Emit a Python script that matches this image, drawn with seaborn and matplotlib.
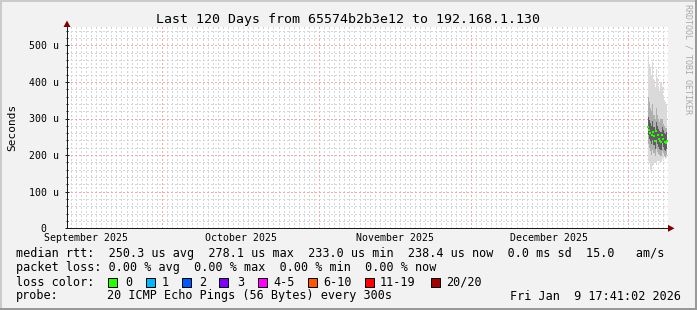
import matplotlib
matplotlib.use("Agg")
import matplotlib.pyplot as plt
from matplotlib.patches import Polygon, Rectangle
from matplotlib.ticker import MultipleLocator, FixedLocator
import seaborn as sns
import pandas as pd

# ---------------- data ----------------
title = "Last 120 Days from 65574b2b3e12 to 192.168.1.130"
y_label = "Seconds"
# time axis in days since 2025-09-01
month_starts = [30, 61, 91, 122]
month_mids = [15, 45.5, 76, 106.5]
month_labels = ["September 2025", "October 2025", "November 2025", "December 2025"]
x_range = [11.24, 129.9]
y_ticks = [0, 100, 200, 300, 400, 500]
y_tick_labels = ["0  ", "100 u", "200 u", "300 u", "400 u", "500 u"]
y_range = [0, 550]

times = [125.95, 126.18, 126.42, 126.65, 126.89, 127.12, 127.36, 127.59, 127.83,
         128.06, 128.29, 128.53, 128.76, 129.00, 129.23, 129.47, 129.70]
rtt_median = [278, 268, 261, 254, 264, 252, 239, 266, 254, 243, 239, 236, 254, 243, 236, 233, 238]
rtt_max = [470, 450, 440, 420, 455, 405, 385, 435, 410, 390, 375, 400, 385, 365, 350, 345, 340]
rtt_p90 = [360, 345, 330, 320, 340, 310, 300, 330, 310, 300, 290, 300, 300, 285, 280, 275, 275]
rtt_p75 = [305, 295, 288, 280, 292, 278, 268, 290, 280, 270, 265, 262, 278, 268, 260, 258, 262]
rtt_p25 = [255, 245, 238, 230, 240, 228, 218, 242, 230, 222, 218, 215, 232, 222, 215, 212, 217]
rtt_p10 = [230, 220, 210, 200, 215, 205, 198, 218, 208, 202, 200, 198, 210, 205, 198, 195, 200]
rtt_min = [190, 178, 160, 150, 170, 178, 182, 172, 185, 188, 185, 180, 190, 192, 195, 190, 192]

median_stats = ["250.3", "278.1", "233.0", "238.4"]
sd_value = "0.0"
am_value = "15.0"
loss_stats = ["0.00", "0.00", "0.00", "0.00"]
loss_labels = ["0", "1", "2", "3", "4-5", "6-10", "11-19", "20/20"]
loss_colors = ["#26ff00", "#00b8ff", "#0059ff", "#7e00ff", "#ff00ff", "#ff5500", "#ff0000", "#a00000"]
probe_text = "20 ICMP Echo Pings (56 Bytes) every 300s"
timestamp = "Fri Jan  9 17:41:02 2026"
watermark = "RRDTOOL / TOBI OETIKER"

# ---------------- figure ----------------
W, H = 697, 310
MONO = "DejaVu Sans Mono"
plt.rcParams["font.family"] = [MONO]
fig = plt.figure(figsize=(W / 100, H / 100), dpi=100, facecolor="#F2F2F2")


def fx(px):
    return px / W


def fy(py):
    return 1 - py / H


left, right, top, bottom = 67, 668, 27, 228.3
ax = fig.add_axes([fx(left), fy(bottom), (right - left) / W, (bottom - top) / H])
ax.set_facecolor("white")
ax.set_xlim(*x_range)
ax.set_ylim(*y_range)

# grid
ax.xaxis.set_major_locator(FixedLocator(month_starts))
ax.xaxis.set_minor_locator(MultipleLocator(1))
ax.yaxis.set_major_locator(FixedLocator(y_ticks))
ax.yaxis.set_minor_locator(MultipleLocator(20))
ax.grid(which="minor", color="#D6D6D6", lw=1.0, ls=(0, (1, 1.5)), antialiased=False)
ax.grid(which="major", color="#F0A8A8", lw=1.0, ls=(0, (1, 1.5)), antialiased=False)
ax.set_axisbelow(True)

ax.set_xticklabels([])
ax.set_yticklabels(y_tick_labels)
ax.tick_params(axis="y", which="major", direction="inout", length=3, width=0.72,
               color="#1A1A1A", pad=4.3, labelsize=7.1)
ax.tick_params(axis="y", which="minor", direction="inout", length=2, width=0.72, color="#1A1A1A")
ax.tick_params(axis="x", which="both", length=0)
for lab in ax.get_yticklabels():
    lab.set_family(MONO)

for s in ["top", "right"]:
    ax.spines[s].set_visible(False)
for s in ["left", "bottom"]:
    ax.spines[s].set_color("#1A1A1A")
    ax.spines[s].set_linewidth(0.72)

# month labels
for d, lab in zip(month_mids, month_labels):
    ax.text(d, -(238 - bottom) / (bottom - top), lab, transform=ax.get_xaxis_transform(),
            ha="center", va="center", fontsize=7.1, family=MONO, clip_on=False)

# smoke
bands = [(rtt_min, rtt_max, "#DADADA"), (rtt_p10, rtt_p90, "#AFAFAF"), (rtt_p25, rtt_p75, "#5E5E5E")]
for lo, hi, col in bands:
    ax.fill_between(times, lo, hi, step="mid", color=col, lw=0, zorder=2)

df = pd.DataFrame({"t": times, "median": rtt_median})
sns.scatterplot(data=df, x="t", y="median", ax=ax, marker="s", s=4.5, color=loss_colors[0],
                linewidth=0, legend=False, zorder=3)
ax.set_xlabel("")
ax.set_ylabel("")

# axis arrows
arrow_col = "#800000"
fig.add_artist(Polygon([(fx(63.5), fy(27)), (fx(70.5), fy(27)), (fx(67), fy(20.5))],
                       closed=True, transform=fig.transFigure, color=arrow_col, lw=0))
fig.add_artist(Polygon([(fx(668), fy(224.8)), (fx(668), fy(231.8)), (fx(674.5), fy(228.3))],
                       closed=True, transform=fig.transFigure, color=arrow_col, lw=0))

# title and labels
fig.text(fx(348), fy(19), title, ha="center", va="center", fontsize=9.5, family=MONO)
fig.text(fx(12), fy(127.5), y_label, ha="center", va="center", rotation=90, fontsize=8, family=MONO)
fig.text(fx(688), fy(59), watermark, ha="center", va="center", rotation=270, fontsize=6,
         family=MONO, color="#A8A8A8")

# legend rows
LS = 8.5
row1 = ("median rtt:  {} us avg  {} us max  {} us min  {} us now  {} ms sd  {}   am/s"
        .format(*median_stats, sd_value, am_value))
row2 = "packet loss: {} % avg  {} % max  {} % min  {} % now".format(*loss_stats)
fig.text(fx(16), fy(254), row1, ha="left", va="center", fontsize=LS, family=MONO)
fig.text(fx(16), fy(268), row2, ha="left", va="center", fontsize=LS, family=MONO)
fig.text(fx(16), fy(282), "loss color:", ha="left", va="center", fontsize=LS, family=MONO)
box_x = [108, 146, 182, 219, 258, 308, 365, 431]
lab_x = [125, 162, 199, 237, 273, 323, 380, 446]
for bx, lx, lab, col in zip(box_x, lab_x, loss_labels, loss_colors):
    fig.add_artist(Rectangle((fx(bx), fy(286.5)), 8.5 / W, 8.5 / H, transform=fig.transFigure,
                             facecolor=col, edgecolor="black", lw=0.72))
    fig.text(fx(lx), fy(282), lab, ha="left", va="center", fontsize=LS, family=MONO)
fig.text(fx(16), fy(296), "probe:", ha="left", va="center", fontsize=LS, family=MONO)
fig.text(fx(107), fy(296), probe_text, ha="left", va="center", fontsize=LS, family=MONO)
fig.text(fx(681), fy(296), timestamp, ha="right", va="center", fontsize=LS, family=MONO)

# frame shading
fig.add_artist(Rectangle((0, 0), fx(2), 1, transform=fig.transFigure, color="#CBCBCB", lw=0))
fig.add_artist(Rectangle((0, fy(2)), 1, 2 / H, transform=fig.transFigure, color="#CBCBCB", lw=0))
fig.add_artist(Rectangle((fx(695), 0), fx(2), 1, transform=fig.transFigure, color="#999999", lw=0))
fig.add_artist(Rectangle((0, 0), 1, 2 / H, transform=fig.transFigure, color="#999999", lw=0))

fig.savefig("out.png", dpi=100, facecolor=fig.get_facecolor())
